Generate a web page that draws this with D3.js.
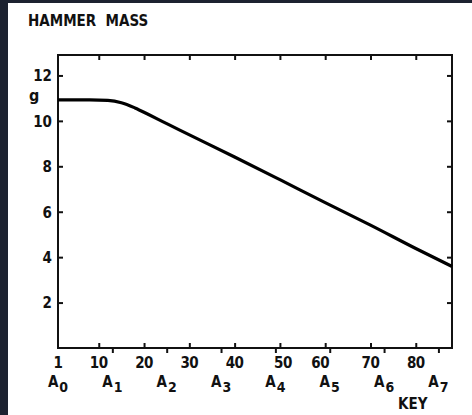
<!DOCTYPE html>
<html>
<head>
<meta charset="utf-8">
<script src="https://cdn.jsdelivr.net/npm/d3@7"></script>
<style>
  html, body { margin: 0; padding: 0; background: #1c2230; }
  svg { display: block; }
</style>
</head>
<body>
<svg id="chart" width="472" height="415"></svg>
<script>
// hammer mass (g), by key number
const keys = [1, 8, 12, 15, 18, 21, 24, 28, 40, 50, 60, 70, 80, 88];
const mass = [10.92, 10.92, 10.9, 10.8, 10.57, 10.28, 9.98, 9.58, 8.41, 7.41, 6.40, 5.41, 4.38, 3.59];

const yTicks = [2, 4, 6, 8, 10, 12];
const keyTicks = [10, 20, 30, 40, 50, 60, 70, 80];
const keyLabels = [1, 10, 20, 30, 40, 50, 60, 70, 80];
const aKeys = [1, 13, 25, 37, 49, 61, 73, 85];
const aNames = ["0", "1", "2", "3", "4", "5", "6", "7"];

const svg = d3.select("#chart");
const ink = "#111";
const labelFont = "'DejaVu Sans Condensed', sans-serif";
// hand lettering sits a little off the tick where it meets an A tick
const nudge = { 50: 3, 60: -5 };

// white sheet, dark strip on left and top
svg.append("rect")
    .attr("x", 8).attr("y", 3)
    .attr("width", 464).attr("height", 412)
    .attr("fill", "#fff");

const x = d3.scaleLinear().domain([1, 88]).range([58, 452]);
const y = d3.scaleLinear().domain([0, 12.9]).range([348, 55]);

function styleAxis(g) {
    g.select(".domain").remove();
    g.selectAll(".tick line").attr("stroke", ink).attr("stroke-width", 2);
    g.selectAll("text")
        .attr("fill", ink)
        .style("font-family", labelFont)
        .style("font-weight", "bold")
        .style("font-size", "15px");
}

// left axis with labels
svg.append("g")
    .attr("transform", `translate(${x.range()[0]},0)`)
    .call(d3.axisLeft(y).tickValues(yTicks).tickSize(-5).tickPadding(6).tickFormat(d3.format("d")))
    .call(styleAxis)
    .selectAll("text").attr("dy", "0.36em");

// right axis, ticks only
svg.append("g")
    .attr("transform", `translate(${x.range()[1]},0)`)
    .call(d3.axisRight(y).tickValues(yTicks).tickSize(-5).tickFormat(""))
    .call(styleAxis);

// top axis, ticks only
svg.append("g")
    .attr("transform", `translate(0,${y.range()[1]})`)
    .call(d3.axisTop(x).tickValues(keyTicks).tickSize(-5).tickFormat(""))
    .call(styleAxis);

// bottom axis, key numbers (ticks inward)
svg.append("g")
    .attr("transform", `translate(0,${y.range()[0]})`)
    .call(d3.axisBottom(x).tickValues(keyTicks).tickSize(-5).tickFormat(""))
    .call(styleAxis);

svg.append("g")
    .selectAll("text")
    .data(keyLabels)
    .join("text")
    .attr("x", d => x(d) + (nudge[d] || 0))
    .attr("y", y.range()[0] + 20)
    .attr("text-anchor", "middle")
    .attr("fill", ink)
    .style("font-family", labelFont)
    .style("font-weight", "bold")
    .style("font-size", "15px")
    .style("letter-spacing", "-0.5px")
    .text(d => d);

// bottom axis, A notes (ticks outward)
svg.append("g")
    .attr("transform", `translate(0,${y.range()[0]})`)
    .call(d3.axisBottom(x).tickValues(aKeys.slice(1)).tickSize(5).tickFormat(""))
    .call(styleAxis);

const aText = svg.append("g")
    .selectAll("text")
    .data(aKeys)
    .join("text")
    .attr("x", d => x(d))
    .attr("y", y.range()[0] + 39)
    .attr("text-anchor", "middle")
    .attr("fill", ink)
    .style("font-family", labelFont)
    .style("font-weight", "bold")
    .style("font-size", "15px");
aText.append("tspan").text("A");
aText.append("tspan")
    .attr("dy", 5)
    .attr("dx", 1)
    .style("font-size", "14px")
    .text((d, i) => aNames[i]);

// frame
svg.append("rect")
    .attr("x", x.range()[0]).attr("y", y.range()[1])
    .attr("width", x.range()[1] - x.range()[0])
    .attr("height", y.range()[0] - y.range()[1])
    .attr("fill", "none")
    .attr("stroke", ink)
    .attr("stroke-width", 2);

// mass curve
const line = d3.line()
    .x((d, i) => x(keys[i]))
    .y(d => y(d))
    .curve(d3.curveMonotoneX);

svg.append("path")
    .datum(mass)
    .attr("d", line)
    .attr("fill", "none")
    .attr("stroke", "#000")
    .attr("stroke-width", 3.2);

// titles
svg.append("text")
    .attr("x", 28).attr("y", 26)
    .attr("fill", ink)
    .style("font-family", "'DejaVu Sans Condensed', sans-serif")
    .style("font-weight", "bold")
    .style("font-size", "15px")
    .style("white-space", "pre")
    .text("HAMMER  MASS");

svg.append("text")
    .attr("x", 29).attr("y", 101)
    .attr("fill", ink)
    .style("font-family", labelFont)
    .style("font-weight", "bold")
    .style("font-size", "16px")
    .text("g");

svg.append("text")
    .attr("x", 398).attr("y", 409)
    .attr("fill", ink)
    .style("font-family", labelFont)
    .style("font-weight", "bold")
    .style("font-size", "15px")
    .text("KEY");
</script>
</body>
</html>
